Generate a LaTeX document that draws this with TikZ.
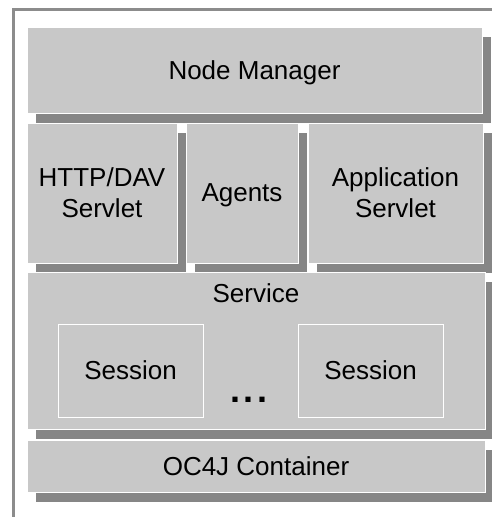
\documentclass[tikz,border=0pt]{standalone}
\usepackage{fontspec}
\setmainfont{Liberation Sans}
\usetikzlibrary{shadows}
\definecolor{boxgray}{RGB}{200,200,200}
\definecolor{shadegray}{RGB}{134,134,134}
\definecolor{framegray}{RGB}{140,140,140}
\tikzset{
  layer/.style={rectangle, fill=boxgray, draw=white, line width=1pt, inner sep=0pt,
    align=center, text depth=0pt, font=\fontsize{26}{31}\selectfont,
    drop shadow={shadow xshift=9pt, shadow yshift=-10pt, fill=shadegray, opacity=1}},
  session/.style={rectangle, fill=boxgray, draw=white, line width=1pt, inner sep=0pt,
    text depth=0pt, font=\fontsize{26}{31}\selectfont,
    minimum width=145pt, minimum height=93pt}
}
\begin{document}
\begin{tikzpicture}[x=1pt,y=-1pt]
	\useasboundingbox (0,0) rectangle (492,517);

	% outer frame
	\draw[framegray, line width=3pt] (13.5,9.5) rectangle (530,518);

	\node[layer, minimum width=455pt, minimum height=86pt] (nodemgr) at (254.5,70) {Node Manager};

	\node[layer, minimum width=150pt, minimum height=140pt] (httpdav) at (102,193) {HTTP/DAV\\Servlet};
	\node[layer, minimum width=112pt, minimum height=140pt] (agents) at (242,193) {Agents};
	\node[layer, minimum width=175pt, minimum height=140pt] (appsrv) at (395.5,193) {Application\\Servlet};

	\node[layer, minimum width=458pt, minimum height=157pt] (service) at (256,350.5) {};
	\node[font=\fontsize{26}{31}\selectfont, text depth=0pt, inner sep=0pt] (svclabel) at (256,293) {Service};

	\node[session] (session1) at (130.5,370.5) {Session};
	\node[session] (session2) at (370.5,370.5) {Session};
	\node[font=\bfseries\fontsize{36}{36}\selectfont, anchor=base, inner sep=0pt] (dots) at (249,402) {.\kern3.5pt.\kern3.5pt.};

	\node[layer, minimum width=458pt, minimum height=52pt] (oc4j) at (256,466) {OC4J Container};
\end{tikzpicture}
\end{document}
